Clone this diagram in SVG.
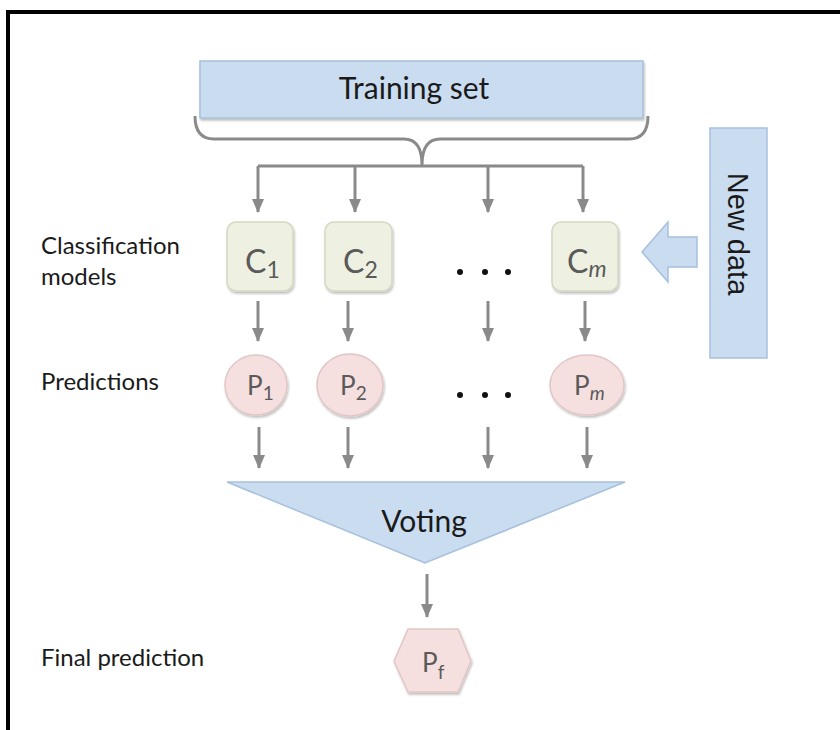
<svg xmlns="http://www.w3.org/2000/svg" width="840" height="730" viewBox="0 0 840 730">
<defs>
<marker id="ah" viewBox="0 0 14 12" refX="13" refY="6" markerWidth="14" markerHeight="12" markerUnits="userSpaceOnUse" orient="auto">
<path d="M0,0 L14,6 L0,12 z" fill="#8a8a8a"/>
</marker>
<filter id="sh" x="-10%" y="-10%" width="130%" height="130%">
<feDropShadow dx="1" dy="2" stdDeviation="1.2" flood-color="#000" flood-opacity="0.25"/>
</filter>
</defs>
<style>
.lbl{font-family:Lato,"Open Sans","Liberation Sans",sans-serif;font-size:24px;fill:#1a1a1a}
.big{font-family:Lato,"Open Sans","Liberation Sans",sans-serif;font-size:30px;fill:#1a1a1a}
.nt{font-family:Lato,"Open Sans","Liberation Sans",sans-serif;fill:#5a5a5a}
.cbox{fill:#eef1e1;stroke:#d2d9c0;stroke-width:1.5}
.pnode{fill:#f5dfdf;stroke:#e2c6c6;stroke-width:1.5}
.blue{fill:#cadcf0;stroke:#a6c0dd;stroke-width:1.5}
.conn{stroke:#8a8a8a;stroke-width:3;fill:none}
.dot{fill:#111}
</style>
<rect width="840" height="730" fill="#fff"/>
<path d="M8,730 V12 H840" fill="none" stroke="#000" stroke-width="4"/>

<g id="training-set">
<rect x="200" y="61" width="443" height="57" class="blue" filter="url(#sh)"/>
<text x="414" y="99" text-anchor="middle" class="big">Training set</text>
</g>

<g id="new-data">
<rect x="710" y="128" width="57" height="230" class="blue"/>
<text transform="translate(738,234) rotate(90)" text-anchor="middle" dominant-baseline="central" style="font-family:'Liberation Sans',Arial,sans-serif;font-size:29px;fill:#1a1a1a">New data</text>
</g>

<g id="new-data-arrow">
<path d="M642,252 L668,222 V237 H697 V267 H668 V282 z" class="blue"/>
</g>

<g id="labels">
<text x="41" y="254" class="lbl">Classification</text>
<text x="41" y="285" class="lbl">models</text>
<text x="41" y="390" class="lbl">Predictions</text>
<text x="41" y="666" class="lbl">Final prediction</text>
</g>

<g id="c1">
<rect x="227" y="222" width="66" height="69" rx="9" class="cbox" filter="url(#sh)"/>
<text x="245" y="273" class="nt" font-size="32">C<tspan font-size="23" dy="5">1</tspan></text>
</g>
<g id="c2">
<rect x="325" y="222" width="67" height="69" rx="9" class="cbox" filter="url(#sh)"/>
<text x="343" y="273" class="nt" font-size="32">C<tspan font-size="23" dy="5">2</tspan></text>
</g>
<g id="cm">
<rect x="552" y="222" width="66" height="69" rx="9" class="cbox" filter="url(#sh)"/>
<text x="567" y="273" class="nt" font-size="32">C<tspan font-size="23" dy="4" font-style="italic">m</tspan></text>
</g>
<g id="c-dots">
<circle cx="460" cy="272" r="3" class="dot"/>
<circle cx="485" cy="272" r="3" class="dot"/>
<circle cx="508" cy="272" r="3" class="dot"/>
</g>

<g id="p1">
<ellipse cx="256" cy="385" rx="31" ry="30" class="pnode" filter="url(#sh)"/>
<text x="247" y="395" class="nt" font-size="26">P<tspan font-size="19" dy="5">1</tspan></text>
</g>
<g id="p2">
<ellipse cx="350" cy="385" rx="33" ry="31" class="pnode" filter="url(#sh)"/>
<text x="340" y="395" class="nt" font-size="26">P<tspan font-size="19" dy="5">2</tspan></text>
</g>
<g id="pm">
<ellipse cx="587" cy="385" rx="37" ry="30" class="pnode" filter="url(#sh)"/>
<text x="574" y="395" class="nt" font-size="26">P<tspan font-size="19" dy="5" font-style="italic">m</tspan></text>
</g>
<g id="p-dots">
<circle cx="460" cy="395" r="3" class="dot"/>
<circle cx="485" cy="395" r="3" class="dot"/>
<circle cx="508" cy="395" r="3" class="dot"/>
</g>

<g id="voting">
<path d="M227,482 L625,482 L425,563 z" class="blue"/>
<text x="424" y="532" text-anchor="middle" class="big">Voting</text>
</g>

<g id="pf">
<path d="M394,661 L408,629 L458,629 L471,661 L458,692 L408,692 z" class="pnode" filter="url(#sh)"/>
<text x="422" y="672" class="nt" font-size="26">P<tspan font-size="19" dy="7">f</tspan></text>
</g>

<g id="connectors">
<path class="conn" d="M195,116 Q195,139 214,139 L404,139 Q422,139 422,165 Q422,139 440,139 L629,139 Q648,139 648,116"/>
<path class="conn" d="M258,166 H583"/>
<path class="conn" d="M258,166 V212" marker-end="url(#ah)"/>
<path class="conn" d="M355,166 V212" marker-end="url(#ah)"/>
<path class="conn" d="M488,166 V212" marker-end="url(#ah)"/>
<path class="conn" d="M583,166 V212" marker-end="url(#ah)"/>
<path class="conn" d="M258,301 V341" marker-end="url(#ah)"/>
<path class="conn" d="M348,301 V341" marker-end="url(#ah)"/>
<path class="conn" d="M488,301 V341" marker-end="url(#ah)"/>
<path class="conn" d="M585,301 V341" marker-end="url(#ah)"/>
<path class="conn" d="M259,427 V468" marker-end="url(#ah)"/>
<path class="conn" d="M348,427 V468" marker-end="url(#ah)"/>
<path class="conn" d="M488,427 V468" marker-end="url(#ah)"/>
<path class="conn" d="M587,427 V468" marker-end="url(#ah)"/>
<path class="conn" d="M427,574 V617" marker-end="url(#ah)"/>
</g>
</svg>
